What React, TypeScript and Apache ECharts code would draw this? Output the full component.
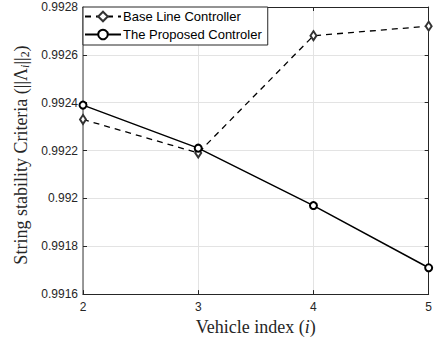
import React, { useEffect, useRef } from "react";
import * as echarts from "echarts";

const vehicleIndex = [2, 3, 4, 5];
const baseLine = [0.99233, 0.99219, 0.99268, 0.99272];
const proposed = [0.99239, 0.99221, 0.99197, 0.99171];
const seriesNames = ["Base Line Controller", "The Proposed Controler"];

const AX = "#262626";
const GRID = "#e3e3e3";
const SERIF = "Liberation Serif, serif";

export default function App() {
  const ref = useRef<HTMLDivElement>(null);
  useEffect(() => {
    const chart = echarts.init(ref.current!, null, { renderer: "svg" });
    const fmt = (v: number) => parseFloat(v.toFixed(4)).toString();
    const tickFont = { fontFamily: "Liberation Sans, Arial", fontSize: 12, color: AX };
    chart.setOption({
      animation: false,
      backgroundColor: "#fff",
      grid: { left: 83, right: 2, top: 7, bottom: 45, containLabel: false },
      graphic: [
        {
          type: "text",
          x: 21,
          y: 155,
          rotation: Math.PI / 2,
          style: {
            text: "String stability Criteria (||Λ{sub|i}||{sub2|2})",
            fontFamily: SERIF,
            fontSize: 18,
            fill: AX,
            align: "center",
            verticalAlign: "middle",
            rich: {
              sub: { fontFamily: SERIF, fontStyle: "italic", fontSize: 12, fill: AX, verticalAlign: "bottom", padding: [7, 0, 0, 0] },
              sub2: { fontFamily: SERIF, fontSize: 12, fill: AX, verticalAlign: "bottom", padding: [7, 0, 0, 0] },
            },
          },
        },
      ],
      legend: {
        left: 83,
        top: 7,
        orient: "vertical",
        backgroundColor: "#fff",
        borderColor: AX,
        borderWidth: 1,
        borderRadius: 0,
        padding: [3, 6, 4, 1],
        itemGap: 5,
        itemWidth: 36,
        itemHeight: 12,
        textStyle: { fontFamily: "Liberation Sans, Arial", fontSize: 13, color: "#000", padding: [0, 0, 0, -3] },
        data: seriesNames,
      },
      xAxis: [
        {
          type: "value",
          min: 2,
          max: 5,
          interval: 1,
          position: "bottom",
          name: "Vehicle index ({it|i})",
          nameLocation: "middle",
          nameGap: 20,
          nameTextStyle: {
            fontFamily: SERIF,
            fontSize: 18,
            color: AX,
            rich: { it: { fontFamily: SERIF, fontStyle: "italic", fontSize: 18, color: AX } },
          },
          axisLine: { show: true, onZero: false, lineStyle: { color: AX, width: 1 } },
          axisTick: { show: true, inside: true, length: 4, lineStyle: { color: AX } },
          axisLabel: { ...tickFont, margin: 7, formatter: (v: number) => String(v) },
          splitLine: { show: true, lineStyle: { color: GRID, width: 1 } },
        },
        {
          type: "value",
          min: 2,
          max: 5,
          interval: 1,
          position: "top",
          axisLine: { show: true, onZero: false, lineStyle: { color: AX, width: 1 } },
          axisTick: { show: true, inside: true, length: 4, lineStyle: { color: AX } },
          axisLabel: { show: false },
          splitLine: { show: false },
        },
      ],
      yAxis: [
        {
          type: "value",
          min: 0.9916,
          max: 0.9928,
          interval: 0.0002,
          position: "left",
          axisLine: { show: true, onZero: false, lineStyle: { color: "#7a7a7a", width: 1.5 } },
          axisTick: { show: true, inside: true, length: 4, lineStyle: { color: AX } },
          axisLabel: { ...tickFont, margin: 5, formatter: fmt },
          splitLine: { show: true, lineStyle: { color: GRID, width: 1 } },
        },
        {
          type: "value",
          min: 0.9916,
          max: 0.9928,
          interval: 0.0002,
          position: "right",
          axisLine: { show: true, onZero: false, lineStyle: { color: AX, width: 1 } },
          axisTick: { show: true, inside: true, length: 4, lineStyle: { color: AX } },
          axisLabel: { show: false },
          splitLine: { show: false },
        },
      ],
      series: [
        {
          name: seriesNames[0],
          type: "line",
          data: vehicleIndex.map((x, i) => [x, baseLine[i]]),
          symbol: "emptyDiamond",
          symbolSize: [6, 9],
          lineStyle: { color: "#000", width: 1.3, type: [6, 5] },
          itemStyle: { color: "#333", borderWidth: 1.3 },
          z: 3,
        },
        {
          name: seriesNames[1],
          type: "line",
          data: vehicleIndex.map((x, i) => [x, proposed[i]]),
          symbol: "emptyCircle",
          symbolSize: 7,
          lineStyle: { color: "#000", width: 1.5 },
          itemStyle: { color: "#000", borderWidth: 1.5 },
          z: 4,
        },
      ],
    });
    return () => chart.dispose();
  }, []);
  return <div ref={ref} style={{ width: 435, height: 341, position: "absolute", left: 0, top: 0 }} />;
}
